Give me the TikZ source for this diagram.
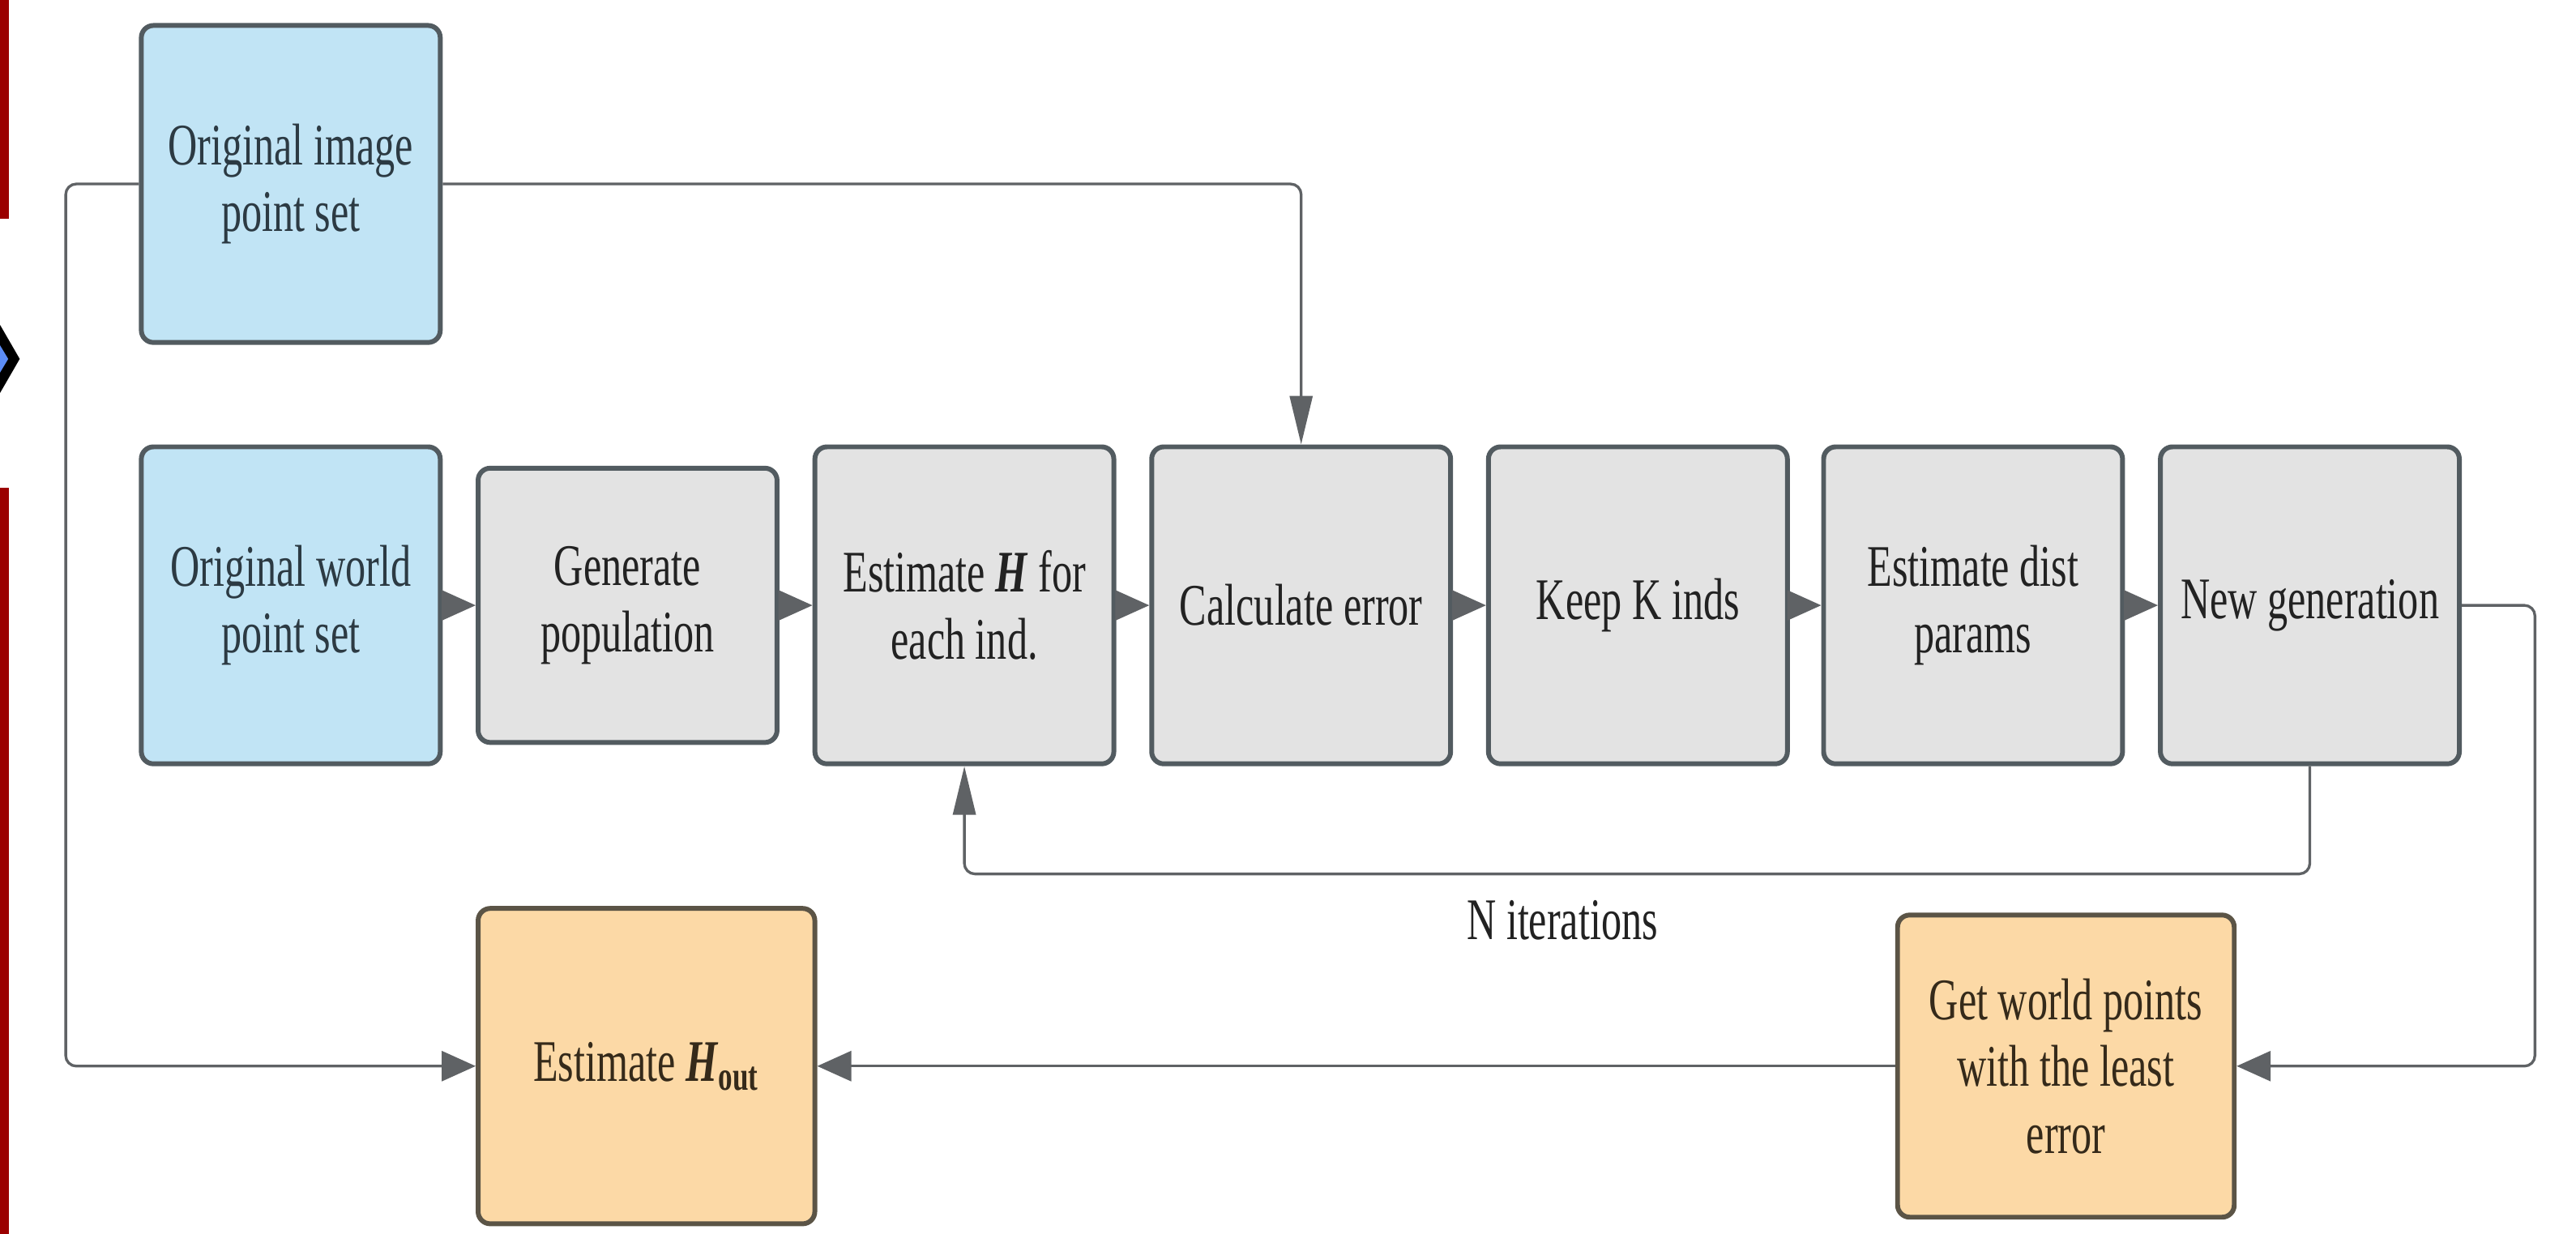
\documentclass[tikz,border=0pt]{standalone}
\usepackage{fontspec}
\setmainfont{Liberation Serif}[FakeStretch=0.69]
\usetikzlibrary{arrows.meta}
\definecolor{bluefill}{HTML}{C1E4F5}
\definecolor{grayfill}{HTML}{E3E3E3}
\definecolor{orangefill}{HTML}{FCD9A6}
\definecolor{bordc}{HTML}{525B60}
\definecolor{orangebord}{HTML}{5B5446}
\definecolor{bluetext}{HTML}{2C3A43}
\definecolor{graytext}{HTML}{222222}
\definecolor{orangetext}{HTML}{352A1A}
\definecolor{connc}{HTML}{5F6265}
\definecolor{redbar}{HTML}{9B0000}
\definecolor{diamblue}{HTML}{5C8DF6}
\tikzset{
  box/.style={draw=bordc, line width=1.7pt, rounded corners=0.15cm, align=center,
    inner sep=2pt, font=\fontsize{20.7}{23.5}\selectfont,
    minimum width=3.69cm, minimum height=3.913cm},
  bluebox/.style={box, fill=bluefill, text=bluetext},
  graybox/.style={box, fill=grayfill, text=graytext},
  orangebox/.style={box, fill=orangefill, draw=orangebord, text=orangetext,
    minimum width=4.156cm},
  conn/.style={draw=connc, line width=0.95pt, rounded corners=0.13cm},
  harr/.style={-{Triangle[length=0.42cm,width=0.37cm]}},
  varr/.style={-{Triangle[length=0.6cm,width=0.28cm]}},
  lbl/.style={font=\fontsize{20.7}{23.5}\selectfont, text=graytext},
}
\begin{document}
\begin{tikzpicture}[x=0.020274cm,y=-0.020274cm]
\useasboundingbox (0,0) rectangle (1568,751);
% decorative left-edge elements
\fill[redbar] (0,0) rectangle (5.5,133);
\fill[redbar] (0,297) rectangle (5.5,751);
\begin{scope}
  \clip (0,0) rectangle (1568,751);
  \fill[black] (12,218.5) -- (-28,149.3) -- (-68,218.5) -- (-28,287.7) -- cycle;
  \fill[diamblue] (5,218.5) -- (-25,168.5) -- (-55,218.5) -- (-25,268.5) -- cycle;
\end{scope}
% boxes
\node[bluebox] (img) at (177,112) {Original image\\point set};
\node[bluebox] (world) at (177,368.5) {Original world\\point set};
\node[graybox, minimum height=3.386cm] (gen) at (382,368.5) {Generate\\population};
\node[graybox] (esth) at (587,368.5) {Estimate \textbf{\textit{H}} for\\each ind.};
\node[graybox] (calc) at (792,368.5) {Calculate error};
\node[graybox] (keep) at (997,368.5) {Keep K inds};
\node[graybox] (dist) at (1201,368.5) {Estimate dist\\params};
\node[graybox] (newg) at (1406,368.5) {New generation};
\node[orangebox, minimum height=3.893cm] (hout) at (393.5,649) {Estimate \textbf{\textit{H}}\textsubscript{\textbf{out}}};
\node[orangebox, minimum height=3.73cm] (getw) at (1257.5,649) {Get world points\\with the least\\error};
% connectors along the row
\draw[conn,harr] (world) -- (gen);
\draw[conn,harr] (gen) -- (esth);
\draw[conn,harr] (esth) -- (calc);
\draw[conn,harr] (calc) -- (keep);
\draw[conn,harr] (keep) -- (dist);
\draw[conn,harr] (dist) -- (newg);
% other connectors
\draw[conn,varr] (img.east) -| (calc.north);
\draw[conn,harr] (img.west) -- (40,112) |- (hout.west);
\draw[conn,harr] (newg.east) -- (1543,368.5) |- (getw.east);
\draw[conn,varr] (newg.south) -- (1406,532) -| (esth.south);
\draw[conn,harr] (getw.west) -- (hout.east);
\node[lbl] (niter) at (951,560) {N iterations};
\end{tikzpicture}
\end{document}
